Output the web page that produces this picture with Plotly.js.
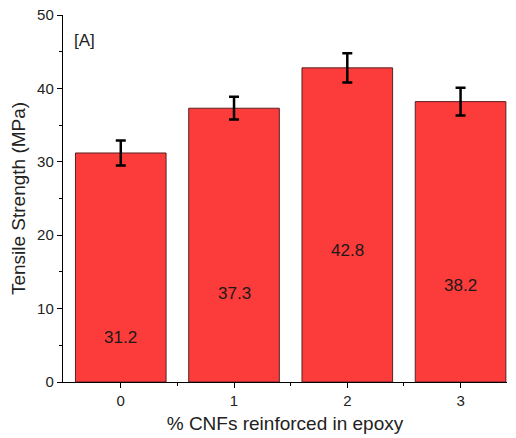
<!DOCTYPE html>
<html><head><meta charset="utf-8">
<script src="https://cdn.plot.ly/plotly-3.0.1.min.js"></script>
<style>body{margin:0;background:#fff}#c{width:516px;height:438px}</style>
</head><body><div id="c"></div>
<script>
const categories = [0, 1, 2, 3];
const strength = [31.2, 37.3, 42.8, 38.2];
const errors = [1.7, 1.55, 2.0, 1.9];
const valueLabels = ['31.2', '37.3', '42.8', '38.2'];
const labelY = [6.0, 12.0, 17.9, 13.2];

const trace = {
  type: 'bar', x: categories, y: strength, width: 0.8,
  marker: {color: '#fc3b3b', line: {color: '#5a2020', width: 1}},
  error_y: {type: 'data', array: errors, visible: true, color: '#000', thickness: 2.5, width: 5},
  hoverinfo: 'none'
};
const annotations = categories.map((c, i) => ({
  x: c, y: labelY[i], xref: 'x', yref: 'y', text: valueLabels[i], showarrow: false,
  font: {family: 'Liberation Sans, Arial, sans-serif', size: 17, color: '#1a1a1a'}
}));
annotations.push({x: 0.02, y: 0.93, xref: 'paper', yref: 'paper', xanchor: 'left', yanchor: 'middle',
  text: '[A]', showarrow: false, font: {family: 'Liberation Sans, Arial, sans-serif', size: 17, color: '#222'}});

const layout = {
  width: 516, height: 438,
  margin: {l: 63, r: 9, t: 15, b: 56},
  paper_bgcolor: '#fff', plot_bgcolor: '#fff',
  showlegend: false,
  font: {family: 'Liberation Sans, Arial, sans-serif', size: 15, color: '#222'},
  xaxis: {
    range: [-0.51, 3.41], tickvals: categories, ticktext: categories.map(String),
    showgrid: false, zeroline: false, showline: true, linecolor: '#000', linewidth: 1.2,
    ticks: 'outside', ticklen: 5, tickcolor: '#000',
    minor: {tickvals: [0.5, 1.5, 2.5], ticks: 'outside', ticklen: 3, tickcolor: '#000'},
    title: {text: '% CNFs reinforced in epoxy', font: {size: 19, color: '#222'}, standoff: 8}
  },
  yaxis: {
    range: [0, 50], dtick: 10, showgrid: false, zeroline: false, showline: true,
    linecolor: '#000', linewidth: 1.2, ticks: 'outside', ticklen: 5, tickcolor: '#000',
    minor: {dtick: 5, ticks: 'outside', ticklen: 3, tickcolor: '#000'},
    title: {text: 'Tensile Strength (MPa)', font: {size: 19, color: '#222'}, standoff: 6}
  },
  annotations: annotations
};
Plotly.newPlot('c', [trace], layout, {displayModeBar: false, staticPlot: true});
</script></body></html>
